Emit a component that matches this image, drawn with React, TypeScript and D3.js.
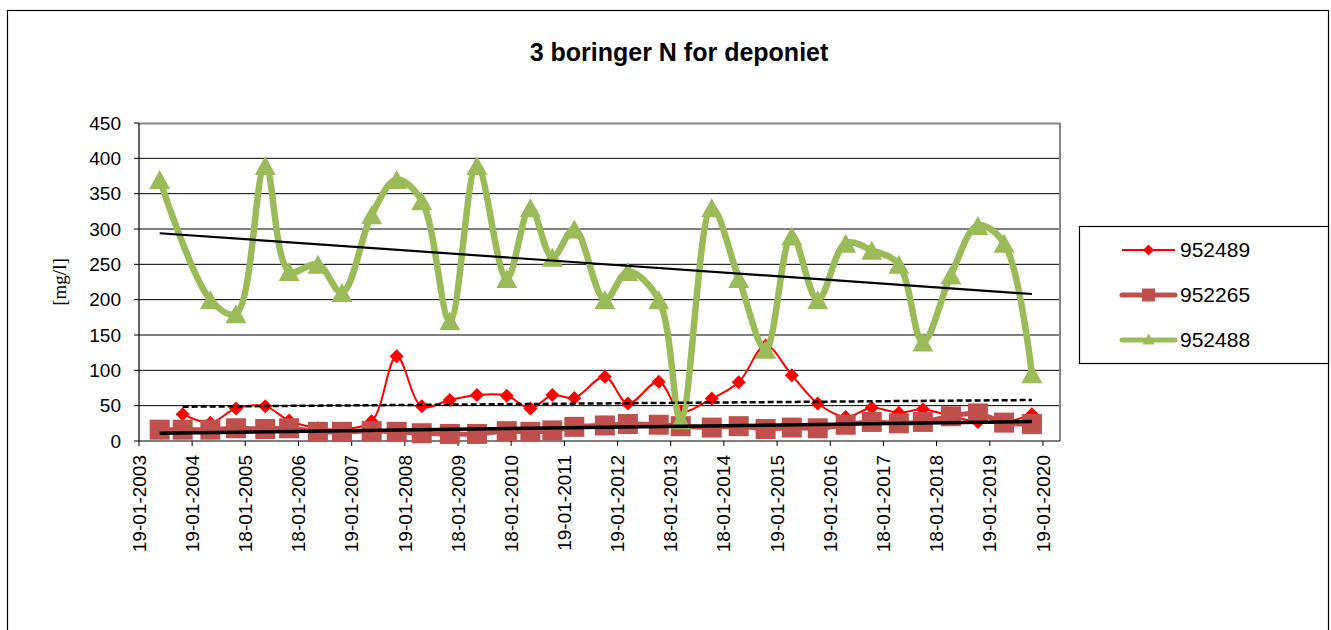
import React from 'react';
import * as d3 from 'd3';

const width = 1331;
const height = 630;
const margin = { top: 123, right: 271, bottom: 189, left: 139 };

// sample dates (shared by all three wells)
const dates = [
  '2003-06-10', '2003-11-15', '2004-05-23', '2004-11-15', '2005-06-04', '2005-11-15',
  '2006-06-01', '2006-11-13', '2007-06-05', '2007-11-24', '2008-05-14', '2008-11-23',
  '2009-05-28', '2009-12-19', '2010-05-30', '2010-10-28', '2011-03-28', '2011-10-24',
  '2012-03-30', '2012-10-28', '2013-03-28', '2013-10-27', '2014-04-30', '2014-11-01',
  '2015-04-30', '2015-10-25', '2016-05-04', '2016-10-30', '2017-05-04', '2017-10-16',
  '2018-04-27', '2018-10-29', '2019-04-27', '2019-11-04',
];

const s952489 = [
  null, 38, 26, 46, 49, 29, 18, 17, 28, 120, 49, 58,
  65, 64, 46, 65, 61, 91, 53, 84, 42, 60, 83, 135,
  93, 53, 34, 47, 40, 45, 35, 27, 26, 38,
];
const s952265 = [
  16, 16, 16, 18, 17, 18, 13, 13, 14, 13, 11, 10,
  10, 14, 13, 15, 20, 22, 24, 23, 21, 19, 21, 17,
  19, 18, 23, 27, 25, 27, 35, 39, 26, 24,
];
const s952488 = [
  370, null, 200, 180, 390, 240, 250, 210, 320, 370, 340, 170,
  390, 230, 330, 260, 300, 200, 240, 200, 30, 330, 230, 130,
  290, 200, 280, 270, 250, 140, 235, 305, 280, 95,
];

// linear trend lines, value at first and last sample
const trend952489 = [48.5, 58];
const trend952265 = [11, 27.5];
const trend952488 = [294, 208];

const xTickLabels = [
  '19-01-2003', '19-01-2004', '18-01-2005', '18-01-2006', '19-01-2007', '19-01-2008',
  '18-01-2009', '18-01-2010', '19-01-2011', '19-01-2012', '18-01-2013', '18-01-2014',
  '19-01-2015', '19-01-2016', '18-01-2017', '18-01-2018', '19-01-2019', '19-01-2020',
];
const yTicks = [0, 50, 100, 150, 200, 250, 300, 350, 400, 450];
const seriesNames = ['952489', '952265', '952488'];

const parseIso = d3.timeParse('%Y-%m-%d');
const parseTick = d3.timeParse('%d-%m-%Y');
const font = '"Liberation Sans", Arial, sans-serif';

const diamond = (r) => `M0,${-r}L${r},0L0,${r}L${-r},0Z`;
const triangle = (w, h) => `M0,${-h / 2}L${w / 2},${h / 2}L${-w / 2},${h / 2}Z`;

const App = () => {
  const innerW = width - margin.left - margin.right;
  const innerH = height - margin.top - margin.bottom;
  const x0 = margin.left;
  const y0 = margin.top;

  const dateObjs = dates.map(d => parseIso(d));
  const xScale = d3.scaleTime()
    .domain([parseTick('19-01-2003'), parseIso('2020-05-15')])
    .range([0, innerW]);
  const yScale = d3.scaleLinear().domain([0, 450]).range([innerH, 0]);

  const pts = (vals) => vals
    .map((v, i) => ({ d: dateObjs[i], v }))
    .filter(p => p.v !== null);

  const line = d3.line()
    .x(p => xScale(p.d))
    .y(p => yScale(p.v))
    .curve(d3.curveCatmullRom.alpha(0.5));

  const trendLine = (vals, t) => {
    const p = pts(vals);
    return {
      x1: xScale(p[0].d), y1: yScale(t[0]),
      x2: xScale(p[p.length - 1].d), y2: yScale(t[1]),
    };
  };

  const red = '#FF0000';
  const brown = '#C0504D';
  const green = '#9BBB59';

  const tRed = trendLine(s952489, trend952489);
  const tBrown = trendLine(s952265, trend952265);
  const tGreen = trendLine(s952488, trend952488);

  return (
    <svg width={width} height={height} style={{ position: 'absolute', left: 0, top: 0, background: '#fff' }}>
      <rect x={7.5} y={10.5} width={1321} height={700} fill="#fff" stroke="#000" strokeWidth={1.2} />
      <text x={679} y={61} textAnchor="middle" fontFamily={font} fontWeight="bold" fontSize={25}>
        3 boringer N for deponiet
      </text>

      <g transform={`translate(${x0},${y0})`}>
        {yTicks.filter(t => t > 0 && t < 450).map(t => (
          <line key={t} x1={0} x2={innerW} y1={yScale(t)} y2={yScale(t)} stroke="#000" strokeWidth={1} />
        ))}
        {/* plot area border */}
        <line x1={0} x2={innerW} y1={0.5} y2={0.5} stroke="#868686" strokeWidth={2} />
        <line x1={innerW} x2={innerW} y1={0} y2={innerH} stroke="#868686" strokeWidth={2} />

        {/* axes */}
        <line x1={0} x2={0} y1={0} y2={innerH} stroke="#000" strokeWidth={1.2} />
        <line x1={0} x2={innerW} y1={innerH} y2={innerH} stroke="#000" strokeWidth={1.2} />
        {yTicks.map(t => (
          <g key={t} transform={`translate(0,${yScale(t)})`}>
            <line x1={-5} x2={0} stroke="#000" />
            <text x={-18} dy="0.35em" textAnchor="end" fontFamily={font} fontSize={19}>{t}</text>
          </g>
        ))}
        {xTickLabels.map(lbl => {
          const tx = xScale(parseTick(lbl));
          return (
            <g key={lbl} transform={`translate(${tx},${innerH})`}>
              <line y1={0} y2={5} stroke="#000" />
              <text transform="rotate(-90)" x={-14} dy="0.35em" textAnchor="end" fontFamily={font} fontSize={19}>
                {lbl}
              </text>
            </g>
          );
        })}

        {/* 952489 */}
        <path d={line(pts(s952489))} fill="none" stroke={red} strokeWidth={2} />
        {pts(s952489).map((p, i) => (
          <path key={i} d={diamond(7)} transform={`translate(${xScale(p.d)},${yScale(p.v)})`} fill={red} />
        ))}

        {/* 952265 */}
        <path d={line(pts(s952265))} fill="none" stroke={brown} strokeWidth={5} />
        {pts(s952265).map((p, i) => (
          <rect key={i} x={xScale(p.d) - 10} y={yScale(p.v) - 10} width={20} height={20} fill={brown} />
        ))}

        {/* 952488 */}
        <path d={line(pts(s952488))} fill="none" stroke={green} strokeWidth={6.5} strokeLinejoin="round" />
        {pts(s952488).map((p, i) => (
          <path key={i} d={triangle(21, 19)} transform={`translate(${xScale(p.d)},${yScale(p.v)})`} fill={green} />
        ))}

        {/* trend lines */}
        <line {...tRed} stroke="#000" strokeWidth={2.5} strokeDasharray="6,3" />
        <line {...tBrown} stroke="#000" strokeWidth={3.5} />
        <line {...tGreen} stroke="#000" strokeWidth={2.2} />
      </g>

      <text transform={`translate(66,${y0 + innerH / 2}) rotate(-90)`} textAnchor="middle"
        fontFamily='"Liberation Serif", "Times New Roman", serif' fontSize={19}>
        [mg/l]
      </text>

      {/* legend */}
      <g>
        <rect x={1079.5} y={226.5} width={249} height={137} fill="#fff" stroke="#000" strokeWidth={1.2} />
        {seriesNames.map((name, i) => {
          const ly = 250 + i * 45;
          const col = [red, brown, green][i];
          const sw = [2, 5, 5][i];
          return (
            <g key={name} transform={`translate(1122,${ly})`}>
              <line x1={0} x2={53} stroke={col} strokeWidth={sw} strokeLinecap={i === 0 ? 'butt' : 'round'} />
              {i === 0 && <path d={diamond(5.5)} transform="translate(26.5,0)" fill={red} />}
              {i === 1 && <rect x={20} y={-6.5} width={13} height={13} fill={brown} />}
              {i === 2 && <path d={triangle(12, 11)} transform="translate(26.5,-1)" fill={green} />}
              <text x={58} dy="0.35em" fontFamily={font} fontSize={21}>{name}</text>
            </g>
          );
        })}
      </g>
    </svg>
  );
};

export default App;
